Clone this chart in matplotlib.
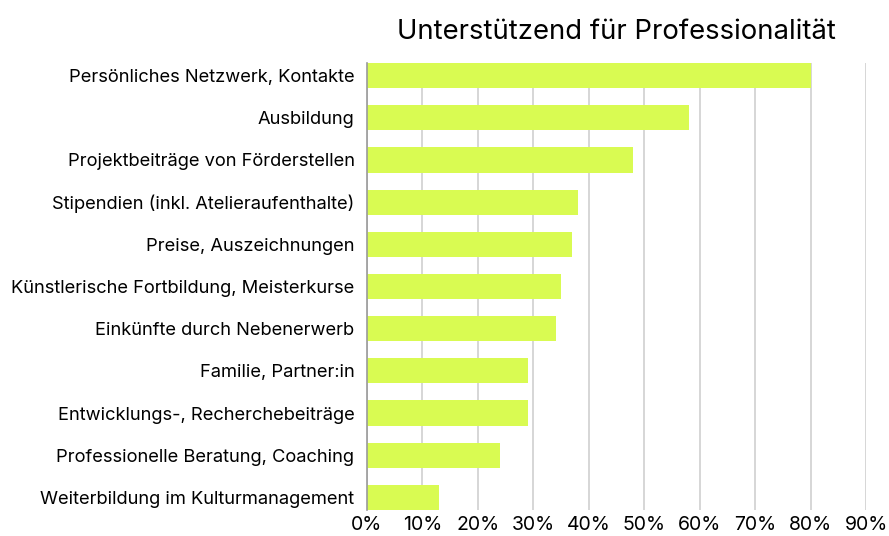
import matplotlib.pyplot as plt
from matplotlib.ticker import FuncFormatter

# data
categories = [
    'Persönliches Netzwerk, Kontakte',
    'Ausbildung',
    'Projektbeiträge von Förderstellen',
    'Stipendien (inkl. Atelieraufenthalte)',
    'Preise, Auszeichnungen',
    'Künstlerische Fortbildung, Meisterkurse',
    'Einkünfte durch Nebenerwerb',
    'Familie, Partner:in',
    'Entwicklungs-, Recherchebeiträge',
    'Professionelle Beratung, Coaching',
    'Weiterbildung im Kulturmanagement',
]
values = [80, 58, 48, 38, 37, 35, 34, 29, 29, 24, 13]
ticks = [0, 10, 20, 30, 40, 50, 60, 70, 80, 90]

plt.rcParams['font.family'] = ['Inter', 'DejaVu Sans']

fig = plt.figure(figsize=(8.89, 5.36), dpi=100)
ax = fig.add_axes([367/889, 1 - 510/536, (866-367)/889, (510-63)/536])

ax.barh(range(len(categories)), values, height=0.6, color='#d9fb52', zorder=2)
ax.set_yticks(range(len(categories)))
ax.set_yticklabels(categories, fontsize=13.2)
ax.set_ylim(len(categories) - 0.7, -0.3)

ax.set_xlim(0, 90)
ax.set_xticks(ticks)
ax.xaxis.set_major_formatter(FuncFormatter(lambda v, p: f'{v:.0f}%'))
ax.tick_params(axis='x', labelsize=14, length=0, pad=4)
ax.tick_params(axis='y', length=0, pad=9)
ax.grid(axis='x', color='#cfcfcf', linewidth=1.2, zorder=0)

for s in ['top', 'right', 'bottom']:
    ax.spines[s].set_visible(False)
ax.spines['left'].set_color('#9a9a9a')
ax.spines['left'].set_linewidth(1.2)

ax.set_title('Unterstützend für Professionalität', fontsize=19.8, pad=17)

plt.savefig('out.png', dpi=100)
plt.close()
